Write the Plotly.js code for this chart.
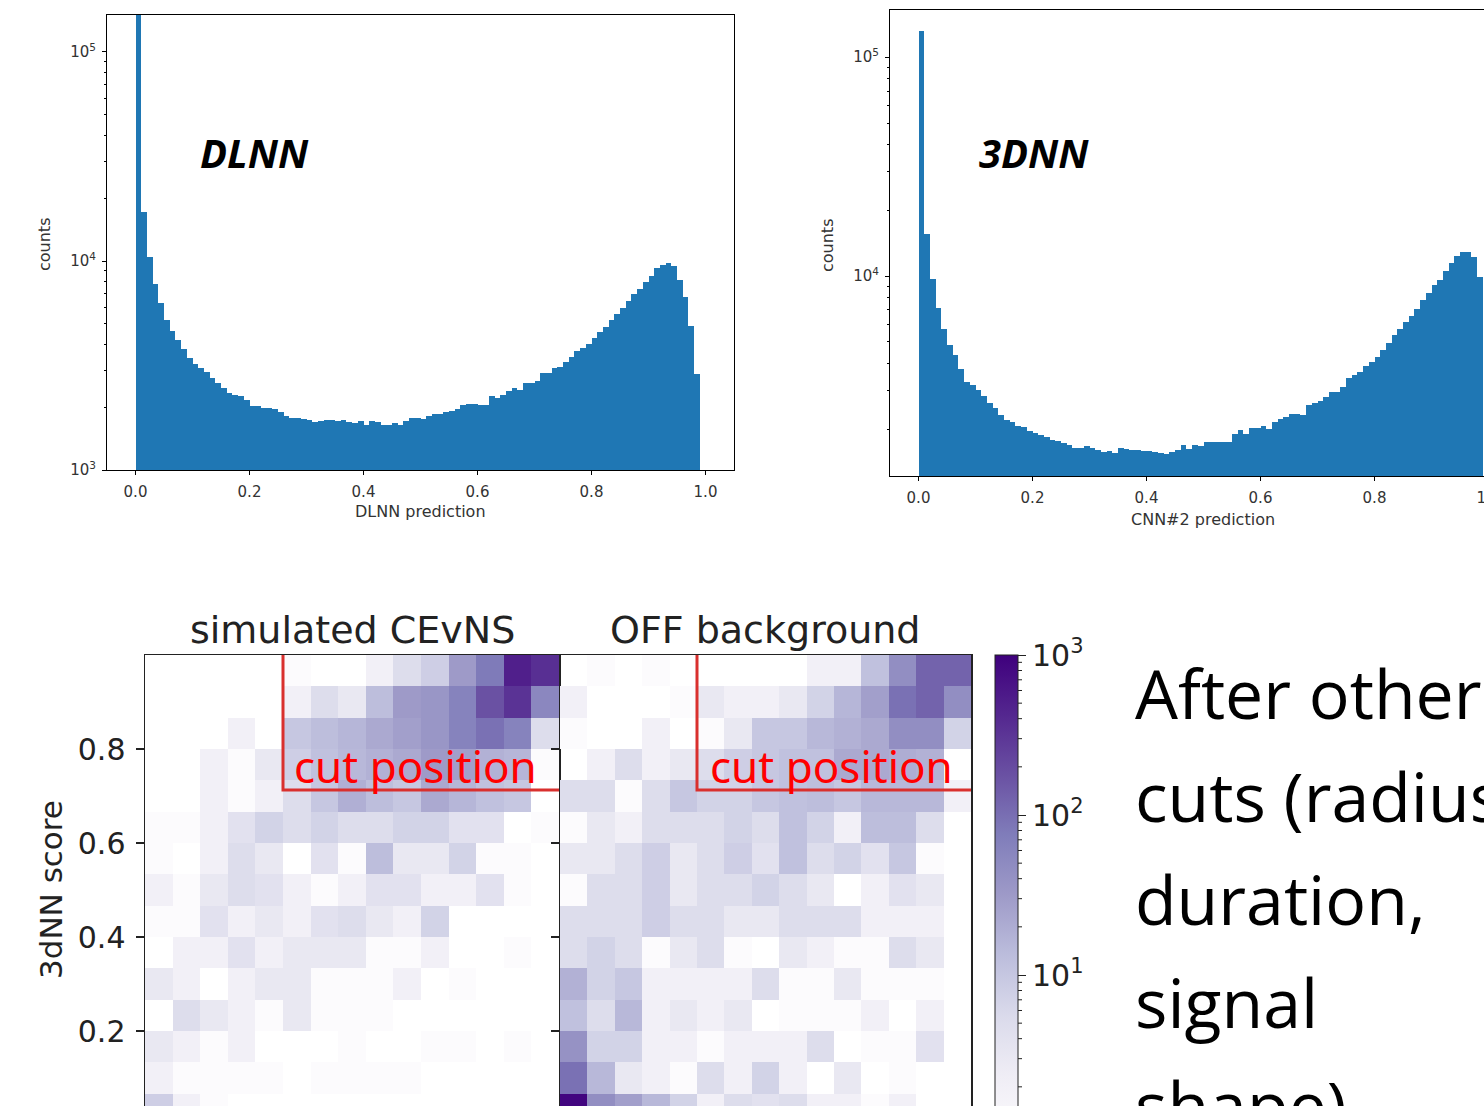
<!DOCTYPE html>
<html><head><meta charset="utf-8">
<script src="https://cdn.plot.ly/plotly-3.0.1.min.js"></script>
<style>html,body{margin:0;padding:0;overflow:hidden;background:#fff;width:1484px;height:1106px}</style>
</head><body><div id="chart" style="width:1600px;height:1250px"></div>
<script>
// ---------------- data ----------------
const predTicks = [0.0, 0.2, 0.4, 0.6, 0.8, 1.0];
// DLNN prediction histogram, bins of 0.01 starting at 0.0
const dlnnCounts = [250000,17100,10400,7740,6330,5230,4600,4170,3790,3420,
  3230,3070,2940,2770,2620,2470,2340,2290,2250,2170,
  2020,2020,1990,1980,1960,1900,1820,1780,1770,1750,
  1740,1690,1720,1740,1740,1720,1740,1690,1670,1720,
  1650,1720,1690,1650,1650,1670,1650,1720,1780,1770,
  1750,1810,1860,1860,1890,1920,1960,2040,2080,2080,
  2040,2040,2250,2210,2280,2380,2470,2410,2620,2620,
  2670,2900,2900,3070,3100,3290,3490,3690,3840,4010,
  4300,4550,4820,5200,5560,5940,6410,6920,7320,7900,
  8520,9210,9560,9730,9510,8140,6730,4900,2880];
// CNN#2 (3DNN) prediction histogram, bins of 0.01 starting at 0.0
const cnnCounts = [132000,15600,9710,7150,5710,4860,4360,3770,3290,3170,
  3030,2820,2640,2490,2310,2200,2150,2070,2040,1960,
  1930,1890,1840,1790,1760,1720,1690,1640,1640,1670,
  1640,1610,1580,1590,1550,1640,1630,1610,1610,1590,
  1590,1570,1550,1540,1580,1610,1700,1630,1700,1670,
  1745,1745,1745,1750,1750,1910,1980,1910,2020,2020,
  2075,2000,2150,2230,2270,2355,2355,2310,2580,2640,
  2700,2800,2950,2950,3110,3440,3530,3660,3870,4050,
  4280,4600,4940,5370,5710,6140,6600,7090,7770,8350,
  9140,9580,10560,11450,12390,12830,12830,12250,9890];
const countTicks = [1e3, 1e4, 1e5];
const countTickText = ['10<sup>3</sup>', '10<sup>4</sup>', '10<sup>5</sup>'];

// 2D histograms (15 x 15), rows listed from top (score ~1) to bottom (score ~0)
const simCEvNS = [
  [0,0,0,0,0,1,0,0,2,5,8,32,78,500,355],
  [0,0,0,0,0,2,5,3,13,32,36,63,178,330,55],
  [0,0,0,2,0,10,13,16,22,28,36,63,95,63,5],
  [0,0,2,1,3,8,12,15,18,22,32,28,18,16,1],
  [0,0,2,1,2,5,10,19,13,10,22,16,12,10,0],
  [1,1,2,4,7,5,7,5,5,7,7,4,4,0,1],
  [1,0,2,5,3,0,4,1,13,3,3,7,1,1,0],
  [2,1,3,5,4,2,1,2,4,4,2,2,4,1,0],
  [1,1,4,2,3,2,4,5,3,2,7,0,0,0,0],
  [0,2,2,4,2,3,3,3,1,1,2,0,0,1,0],
  [3,2,0,2,3,3,1,1,1,2,0,1,0,0,0],
  [0,5,3,2,1,3,1,1,1,0,0,0,0,0,0],
  [3,2,1,2,0,0,0,1,0,0,1,1,0,1,0],
  [2,1,1,1,1,0,1,1,1,1,0,0,0,0,0],
  [8,2,1,0,0,0,0,0,0,0,0,0,0,0,0]];
const offBackground = [
  [0,1,0,1,0,0,0,0,0,2,2,12,45,126,126],
  [2,0,0,0,1,3,2,2,3,7,16,28,95,126,45],
  [1,0,0,2,0,1,3,10,10,15,18,22,45,45,7],
  [0,2,5,2,3,5,8,10,12,12,22,22,20,18,0],
  [5,5,1,5,10,7,7,10,12,13,10,15,15,15,2],
  [1,3,2,5,5,5,7,5,12,7,2,13,13,5,0],
  [3,3,5,8,3,5,8,4,12,5,7,4,10,1,0],
  [1,5,5,8,3,5,5,7,5,3,0,2,4,3,0],
  [5,5,5,8,5,5,3,3,5,5,5,2,2,2,0],
  [5,7,5,1,3,5,1,0,3,2,1,1,5,3,0],
  [18,7,10,2,2,2,2,5,1,1,3,1,1,1,0],
  [12,5,15,2,3,2,3,0,1,1,1,2,0,2,0],
  [40,7,7,2,2,1,2,2,2,5,0,1,1,4,0],
  [95,15,3,2,1,5,2,7,2,0,3,0,1,0,0],
  [900,45,28,15,7,2,5,4,5,2,2,1,2,0,0]];
const scoreTicks = [0.0, 0.2, 0.4, 0.6, 0.8];
const cutBinEdge = 4.5;     // cut on the x variable (bin edge index)
const cutScore = 0.713;     // cut on 3dNN score
const cbarTicks = [0, 1, 2, 3];
const cbarTickText = ['10<sup>0</sup>', '10<sup>1</sup>', '10<sup>2</sup>', '10<sup>3</sup>'];
const textLines = ['After other', 'cuts (radius', 'duration,', 'signal', 'shape)'];

// ---------------- layout helpers ----------------
const W = 1600, H = 1250;
const fx = p => p / W;
const fy = p => 1 - p / H;
const DJ = 'DejaVu Sans';

const binCenters = arr => arr.map((_, i) => i * 0.01 + 0.005);
const toLog = m => m.slice().reverse().map(r => r.map(v => v > 0 ? Math.log10(v) : null));

const histMinor = [];
[1e3, 1e4, 1e5].forEach(d => { for (let m = 2; m <= 9; m++) histMinor.push(m * d); });

const purples = [[0,'#fcfbfd'],[0.125,'#efedf5'],[0.25,'#dadaeb'],[0.375,'#bcbddc'],
  [0.5,'#9e9ac8'],[0.625,'#807dba'],[0.75,'#6a51a3'],[0.875,'#54278f'],[1,'#3f007d']];

const traces = [
  {type:'bar', x: binCenters(dlnnCounts), y: dlnnCounts, width: 0.01, xaxis:'x', yaxis:'y',
   marker:{color:'#1f77b4', line:{width:0}}, hoverinfo:'skip'},
  {type:'bar', x: binCenters(cnnCounts), y: cnnCounts, width: 0.01, xaxis:'x2', yaxis:'y2',
   marker:{color:'#1f77b4', line:{width:0}}, hoverinfo:'skip'},
  {type:'heatmap', z: toLog(simCEvNS), x0: 0, dx: 1, y0: 1/30, dy: 1/15, xaxis:'x3', yaxis:'y3',
   coloraxis:'coloraxis', hoverinfo:'skip'},
  {type:'heatmap', z: toLog(offBackground), x0: 0, dx: 1, y0: 1/30, dy: 1/15, xaxis:'x4', yaxis:'y4',
   coloraxis:'coloraxis', hoverinfo:'skip'}
];

const histX = (dom, anchor) => ({domain: dom, anchor: anchor, range: [-0.05, 1.05],
  showline:true, linecolor:'#000', linewidth:1, mirror:true, showgrid:false, zeroline:false,
  ticks:'outside', ticklen:4, tickcolor:'#000', tickvals: predTicks, tickformat:'.1f',
  ticklabelstandoff: 4, tickfont:{family:DJ, size:15, color:'#333'}});
const histY = (dom, anchor, rng) => ({domain: dom, anchor: anchor, type:'log', range: rng,
  showline:true, linecolor:'#000', linewidth:1, mirror:true, showgrid:false, zeroline:false,
  ticks:'outside', ticklen:4, tickcolor:'#000', tickvals: countTicks, ticktext: countTickText,
  ticklabelstandoff: 3, tickfont:{family:DJ, size:15, color:'#333'},
  minor:{tickvals: histMinor, ticks:'outside', ticklen:2, tickcolor:'#000', showgrid:false}});
const heatX = (dom, anchor) => ({domain: dom, anchor: anchor, range: [-0.5, 14.5],
  showline:true, linecolor:'#222', linewidth:1.5, mirror:true, showgrid:false, zeroline:false,
  ticks:'', showticklabels:false});
const heatY = (dom, anchor, labels) => ({domain: dom, anchor: anchor, range: [0, 1],
  showline:true, linecolor:'#222', linewidth:1.5, mirror:true, showgrid:false, zeroline:false,
  ticks:'outside', ticklen:8, tickwidth:1.5, tickcolor:'#222', tickvals: scoreTicks, tickformat:'.1f',
  showticklabels: labels, ticklabelstandoff: 4, tickfont:{family:DJ, size:30, color:'#222'}});

const heatDomY = [fy(1125), fy(655)];

const shapes = [
  {type:'path', xref:'x3', yref:'y3', path:`M ${cutBinEdge},1 L ${cutBinEdge},${cutScore} L 14.5,${cutScore}`,
   line:{color:'#d9302e', width:3}},
  {type:'path', xref:'x4', yref:'y4', path:`M ${cutBinEdge},1 L ${cutBinEdge},${cutScore} L 14.5,${cutScore}`,
   line:{color:'#d9302e', width:3}}
];
// colorbar minor ticks
for (let k = 0; k < 3; k++) for (let m = 2; m <= 9; m++) {
  const v = k + Math.log10(m);
  const yp = 655 + (3 - v) * 160;
  shapes.push({type:'line', xref:'paper', yref:'paper', x0: fx(1018), x1: fx(1022), y0: fy(yp), y1: fy(yp),
    line:{color:'#222', width:1}});
}

const ann = (text, x, y, size, opts) => Object.assign({text: text, x: fx(x), y: fy(y), xref:'paper', yref:'paper',
  xanchor:'center', yanchor:'middle', showarrow:false, font:{family:DJ, size:size, color:'#333'}}, opts || {});

const annotations = [
  ann('<b><i>DLNN</i></b>', 254, 152, 40, {font:{family:'Liberation Sans Narrow, Open Sans', size:40, color:'#000'}}),
  ann('<b><i>3DNN</i></b>', 1034, 152, 40, {font:{family:'Liberation Sans Narrow, Open Sans', size:40, color:'#000'}}),
  ann('counts', 45, 245, 16, {textangle:-90}),
  ann('counts', 828, 245, 16, {textangle:-90}),
  ann('DLNN prediction', 420, 512, 16),
  ann('CNN#2 prediction', 1203, 519, 16),
  ann('simulated CEvNS', 352, 630, 38, {font:{family:DJ, size:38, color:'#222'}}),
  ann('OFF background', 765, 630, 38, {font:{family:DJ, size:38, color:'#222'}}),
  ann('3dNN score', 51, 890, 31, {textangle:-90, font:{family:DJ, size:31, color:'#222'}}),
  ann('cut position', 415, 766, 44, {font:{family:'Noto Sans', size:44, color:'#ff0000'}}),
  ann('cut position', 831, 766, 44, {font:{family:'Noto Sans', size:44, color:'#ff0000'}})
];
textLines.forEach((t, i) => annotations.push(ann(t, 1133, 692 + i * 103, 68,
  {xanchor:'left', font:{family:'Open Sans', size:68, color:'#000'}})));

const layout = {
  width: W, height: H, margin:{l:0, r:0, t:0, b:0}, paper_bgcolor:'#fff', plot_bgcolor:'rgba(0,0,0,0)',
  showlegend:false, bargap:0,
  font:{family:DJ},
  xaxis: histX([fx(107), fx(734)], 'y'),
  yaxis: histY([fy(470), fy(15)], 'x', [3, 5.177]),
  xaxis2: histX([fx(890), fx(1517)], 'y2'),
  yaxis2: histY([fy(476), fy(10)], 'x2', [3.087, 5.215]),
  xaxis3: heatX([fx(145), fx(559)], 'y3'),
  yaxis3: heatY(heatDomY, 'x3', true),
  xaxis4: heatX([fx(560), fx(971)], 'y4'),
  yaxis4: heatY(heatDomY, 'x4', false),
  coloraxis: {colorscale: purples, cmin: 0, cmax: 3,
    colorbar: {x: fx(995), xanchor:'left', xpad:0, ypad:0, y: fy(655), yanchor:'top',
      len: 480, lenmode:'pixels', thickness: 23, thicknessmode:'pixels',
      outlinewidth: 1, outlinecolor:'#222', ticks:'outside', ticklen: 8, tickcolor:'#222',
      tickvals: cbarTicks, ticktext: cbarTickText, tickfont:{family:DJ, size:30, color:'#222'}}},
  shapes: shapes,
  annotations: annotations
};

Plotly.newPlot('chart', traces, layout, {displayModeBar:false, staticPlot:true});
</script></body></html>
